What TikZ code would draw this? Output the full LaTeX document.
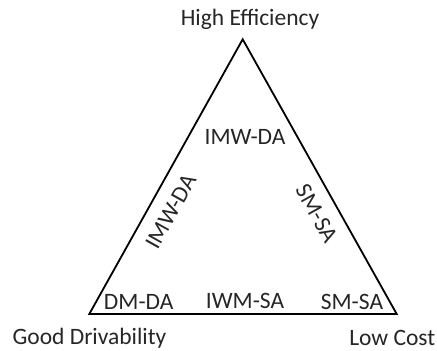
\documentclass[tikz,border=0pt]{standalone}
\usepackage{fontspec}
\setmainfont{Carlito}
\begin{document}
\begin{tikzpicture}[x=1pt,y=-1pt,
  lbl/.style={inner sep=0pt, font=\fontsize{23.5}{27}\selectfont, text=black!85},
  edge/.style={draw=black, line width=1.8pt, line join=miter}]
  \useasboundingbox (0,0) rectangle (437,351);
  % corners of the triangle
  \coordinate (top) at (242.7,39.3);
  \coordinate (bl) at (89.3,314);
  \coordinate (br) at (396.7,314);
  \draw[edge] (top) -- (bl) -- (br) -- cycle;
  % goals at the corners
  \node[lbl] (eff) at (250,19.3) {High Efficiency};
  \node[lbl] (drv) at (89.5,338) {Good Drivability};
  \node[lbl, anchor=east] (cost) at (435.5,338) {Low Cost};
  % configurations inside
  \node[lbl] (a) at (245,136.7) {IMW-DA};
  \node[lbl, rotate=60.8] (b) at (170.7,211.7) {IMW-DA};
  \node[lbl, rotate=-60.8] (c) at (316.7,213.3) {SM-SA};
  \node[lbl] (d) at (138.7,302) {DM-DA};
  \node[lbl] (e) at (245,300.7) {IWM-SA};
  \node[lbl] (f) at (352,302) {SM-SA};
\end{tikzpicture}
\end{document}
